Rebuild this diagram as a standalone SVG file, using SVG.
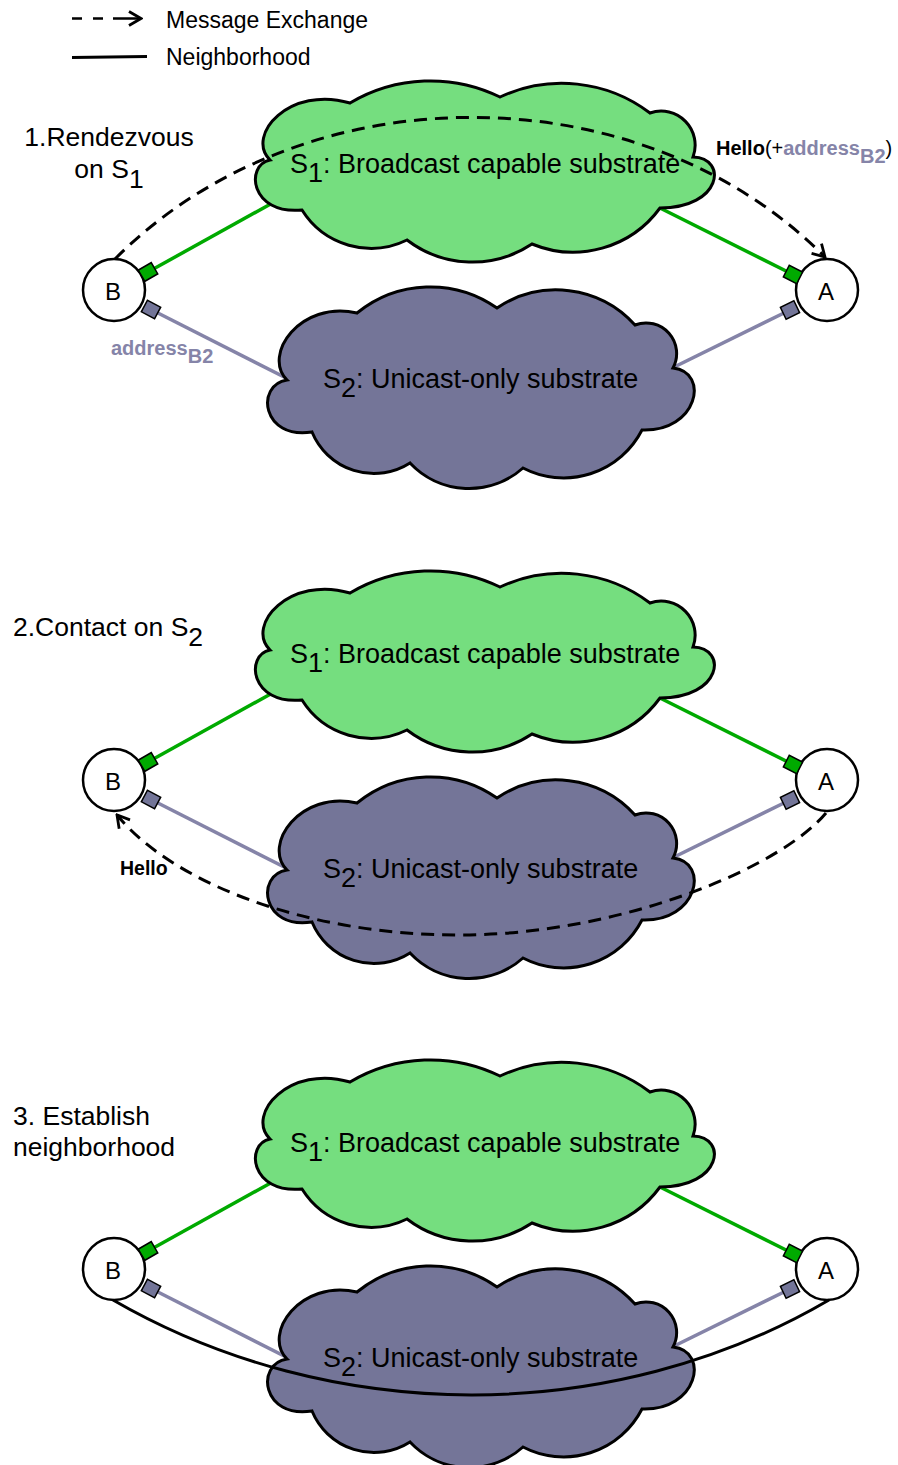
<svg xmlns="http://www.w3.org/2000/svg" xmlns:xlink="http://www.w3.org/1999/xlink" width="898" height="1465" viewBox="0 0 898 1465">
<style>
.t{font-family:"Liberation Sans",Arial,Helvetica,sans-serif;fill:#000}
.b{font-weight:bold}
.lav{fill:#8584a8}
.cloudG{fill:#75de7f;stroke:#000;stroke-width:3}
.cloudS{fill:#747598;stroke:#000;stroke-width:3}
.node{fill:#fff;stroke:#000;stroke-width:2.5}
.gl{stroke:#00aa00;stroke-width:3.5;fill:none}
.sl{stroke:#8584a8;stroke-width:3.5;fill:none}
.gp{fill:#00aa00;stroke:#000;stroke-width:1.5}
.sp{fill:#737598;stroke:#000;stroke-width:1.5}
.msg{fill:none;stroke:#000;stroke-width:3;stroke-dasharray:13 8}
.nb{fill:none;stroke:#000;stroke-width:3}
</style>
<defs>
<marker id="arr" viewBox="-15 -9 17 18" refX="0" refY="0" markerWidth="17" markerHeight="18" markerUnits="userSpaceOnUse" orient="auto">
<path d="M-12,-7 L0,0 L-12,7" fill="none" stroke="#000" stroke-width="2.8"/>
</marker>
<path id="cloudGreen" d="M350,103 A158,158 0 0 1 500,97 A146,146 0 0 1 650,113 A34,34 0 0 1 693,157 C728,158 722,208 660,208 A107.6,107.6 0 0 1 532,244 A107.7,107.7 0 0 1 407,240 A81.5,81.5 0 0 1 302,210 C250,215 245,165 270,160 C245,135 290,85 350,103 Z"/>
<path id="cloudGray" d="M357,313 A116,116 0 0 1 497,308 A106,106 0 0 1 635,325 A30.6,30.6 0 0 1 673,368 C710,372 698,432 642,430 A88,88 0 0 1 523,468 A81,81 0 0 1 410,463 A67,67 0 0 1 312,432 C262,440 255,385 287,380 C262,355 300,300 357,313 Z"/>
<rect id="port" x="-7.5" y="-6.5" width="15" height="13"/>
</defs>

<g id="legend">
<path d="M72,18.5 H82 M93,18.5 H103 M113,18.5 H141" fill="none" stroke="#000" stroke-width="2.5" marker-end="url(#arr)"/>
<text class="t" x="166" y="28" font-size="23">Message Exchange</text>
<path d="M72,57.5 L147,56.5" class="nb"/>
<text class="t" x="166" y="65" font-size="23">Neighborhood</text>
</g>

<!-- Panel 1 -->
<g id="panel1">
<text class="t" x="109" y="146" font-size="26.5" text-anchor="middle">1.Rendezvous</text>
<text class="t" x="109" y="178" font-size="26.5" text-anchor="middle">on S<tspan dy="10">1</tspan></text>
<g id="p1-connectors">
<path class="gl" d="M148,272 L285,196"/>
<path class="gl" d="M793,274.5 L648,202"/>
<path class="sl" d="M151,309.5 L300,385"/>
<path class="sl" d="M790,310 L660,374"/>
</g>
<g id="p1-S1"><use xlink:href="#cloudGreen" class="cloudG"/>
<text class="t" x="290" y="173" font-size="27">S<tspan dy="9">1</tspan><tspan dy="-9">: Broadcast capable substrate</tspan></text></g>
<g id="p1-S2"><use xlink:href="#cloudGray" class="cloudS"/>
<text class="t" x="323" y="388" font-size="27">S<tspan dy="9">2</tspan><tspan dy="-9">: Unicast-only substrate</tspan></text></g>
<g id="p1-B"><circle class="node" cx="114" cy="290" r="31"/>
<text class="t" x="113" y="299.5" font-size="24" text-anchor="middle">B</text>
<use xlink:href="#port" class="gp" transform="translate(148,272) rotate(-30)"/>
<use xlink:href="#port" class="sp" transform="translate(151,309.5) rotate(28)"/></g>
<g id="p1-A"><circle class="node" cx="827" cy="290" r="31"/>
<text class="t" x="826" y="300" font-size="24" text-anchor="middle">A</text>
<use xlink:href="#port" class="gp" transform="translate(793,274.5) rotate(27)"/>
<use xlink:href="#port" class="sp" transform="translate(790,310) rotate(-26)"/></g>
<g id="p1-messages">
<path class="msg" d="M115,259 C302,71 639,70 825,257" marker-end="url(#arr)"/>
</g>
<text class="t" x="716" y="155" font-size="20"><tspan class="b">Hello</tspan>(+<tspan class="b lav">address</tspan><tspan class="b lav" dy="8">B2</tspan><tspan dy="-8">)</tspan></text>
<text class="t b lav" x="111" y="355" font-size="20">address<tspan dy="8">B2</tspan></text>
</g>

<!-- Panel 2 -->
<g id="panel2">
<text class="t" x="13" y="636" font-size="26.5">2.Contact on S<tspan dy="10">2</tspan></text>
<g transform="translate(0,490)">
<g id="p2-connectors">
<path class="gl" d="M148,272 L285,196"/>
<path class="gl" d="M793,274.5 L648,202"/>
<path class="sl" d="M151,309.5 L300,385"/>
<path class="sl" d="M790,310 L660,374"/>
</g>
<g id="p2-S1"><use xlink:href="#cloudGreen" class="cloudG"/>
<text class="t" x="290" y="173" font-size="27">S<tspan dy="9">1</tspan><tspan dy="-9">: Broadcast capable substrate</tspan></text></g>
<g id="p2-S2"><use xlink:href="#cloudGray" class="cloudS"/>
<text class="t" x="323" y="388" font-size="27">S<tspan dy="9">2</tspan><tspan dy="-9">: Unicast-only substrate</tspan></text></g>
<g id="p2-B"><circle class="node" cx="114" cy="290" r="31"/>
<text class="t" x="113" y="299.5" font-size="24" text-anchor="middle">B</text>
<use xlink:href="#port" class="gp" transform="translate(148,272) rotate(-30)"/>
<use xlink:href="#port" class="sp" transform="translate(151,309.5) rotate(28)"/></g>
<g id="p2-A"><circle class="node" cx="827" cy="290" r="31"/>
<text class="t" x="826" y="300" font-size="24" text-anchor="middle">A</text>
<use xlink:href="#port" class="gp" transform="translate(793,274.5) rotate(27)"/>
<use xlink:href="#port" class="sp" transform="translate(790,310) rotate(-26)"/></g>
</g>
<g id="p2-messages">
<path class="msg" d="M826,813 C780,868 620,935 460,935 C300,935 170,880 117,815" marker-end="url(#arr)"/>
</g>
<text class="t b" x="120" y="875" font-size="19.5">Hello</text>
</g>

<!-- Panel 3 -->
<g id="panel3">
<text class="t" x="13" y="1125" font-size="26.5">3. Establish</text>
<text class="t" x="13" y="1156" font-size="26.5">neighborhood</text>
<g transform="translate(0,979)">
<g id="p3-connectors">
<path class="gl" d="M148,272 L285,196"/>
<path class="gl" d="M793,274.5 L648,202"/>
<path class="sl" d="M151,309.5 L300,385"/>
<path class="sl" d="M790,310 L660,374"/>
</g>
<g id="p3-S1"><use xlink:href="#cloudGreen" class="cloudG"/>
<text class="t" x="290" y="173" font-size="27">S<tspan dy="9">1</tspan><tspan dy="-9">: Broadcast capable substrate</tspan></text></g>
<g id="p3-S2"><use xlink:href="#cloudGray" class="cloudS"/>
<text class="t" x="323" y="388" font-size="27">S<tspan dy="9">2</tspan><tspan dy="-9">: Unicast-only substrate</tspan></text></g>
<g id="p3-B"><circle class="node" cx="114" cy="290" r="31"/>
<text class="t" x="113" y="299.5" font-size="24" text-anchor="middle">B</text>
<use xlink:href="#port" class="gp" transform="translate(148,272) rotate(-30)"/>
<use xlink:href="#port" class="sp" transform="translate(151,309.5) rotate(28)"/></g>
<g id="p3-A"><circle class="node" cx="827" cy="290" r="31"/>
<text class="t" x="826" y="300" font-size="24" text-anchor="middle">A</text>
<use xlink:href="#port" class="gp" transform="translate(793,274.5) rotate(27)"/>
<use xlink:href="#port" class="sp" transform="translate(790,310) rotate(-26)"/></g>
<g id="p3-neighborhood">
<path class="nb" d="M113,321 C331,447 612,448 829,321"/>
</g>
</g>
</g>
</svg>
